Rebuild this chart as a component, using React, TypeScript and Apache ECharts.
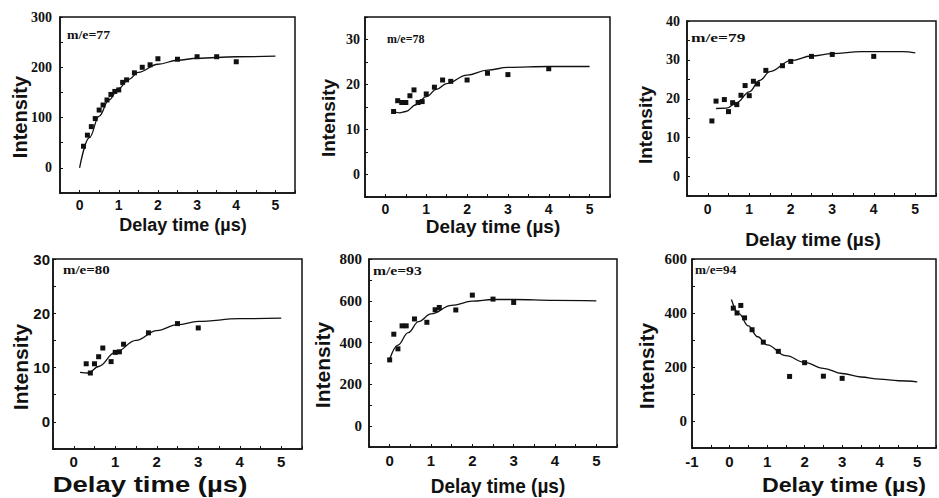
import React, { useEffect, useRef } from "react";
import * as echarts from "echarts";

// ---- data ----
const x77 = [0.1, 0.2, 0.3, 0.4, 0.5, 0.6, 0.7, 0.8, 0.9, 1.0, 1.1, 1.2, 1.4, 1.6, 1.8, 2.0, 2.5, 3.0, 3.5, 4.0];
const y77 = [43, 65, 82, 98, 115, 125, 135, 146, 152, 155, 170, 175, 189, 200, 205, 217, 216, 221, 221, 211];
const fit77X = [0, 0.25, 0.5, 0.75, 1, 1.25, 1.5, 2, 2.5, 3, 4, 5];
const fit77Y = [0, 60, 103, 135, 158, 176, 190, 206, 214, 218, 221, 222];

const x78 = [0.2, 0.3, 0.4, 0.5, 0.6, 0.7, 0.8, 0.9, 1.0, 1.2, 1.4, 1.6, 2.0, 2.5, 3.0, 4.0];
const y78 = [14.0, 16.4, 16.0, 16.0, 17.5, 18.8, 16.0, 16.2, 17.9, 19.4, 21.0, 20.7, 21.0, 22.5, 22.2, 23.5];
const fit78X = [0.2, 0.35, 0.5, 0.75, 1, 1.25, 1.5, 2, 2.5, 3, 4, 5];
const fit78Y = [14.0, 13.7, 14.0, 15.5, 17.3, 18.9, 20.2, 22.1, 23.2, 23.8, 24.0, 24.0];

const x79 = [0.1, 0.2, 0.4, 0.5, 0.6, 0.7, 0.8, 0.9, 1.0, 1.1, 1.2, 1.4, 1.8, 2.0, 2.5, 3.0, 4.0];
const y79 = [14.3, 19.4, 19.8, 16.7, 19.0, 18.5, 20.9, 23.4, 20.8, 24.5, 23.8, 27.3, 28.5, 29.6, 30.9, 31.4, 30.9];
const fit79X = [0.2, 0.45, 0.7, 1.0, 1.25, 1.5, 2.0, 2.5, 3.0, 3.7, 4.7, 5.0];
const fit79Y = [17.5, 17.6, 19.0, 21.8, 24.7, 27.0, 29.8, 31.0, 31.6, 32.1, 32.1, 31.8];

const x80 = [0.3, 0.4, 0.5, 0.6, 0.7, 0.9, 1.0, 1.1, 1.2, 1.8, 2.5, 3.0];
const y80 = [10.7, 9.0, 10.7, 12.0, 13.6, 11.1, 12.8, 12.9, 14.3, 16.4, 18.1, 17.3];
const fit80X = [0.15, 0.35, 0.6, 1.0, 1.5, 2.0, 2.5, 3.0, 4.0, 5.0];
const fit80Y = [9.1, 9.0, 10.2, 12.8, 15.0, 16.8, 17.9, 18.5, 19.0, 19.1];

const x93 = [0, 0.1, 0.2, 0.3, 0.4, 0.6, 0.9, 1.1, 1.2, 1.6, 2.0, 2.5, 3.0];
const y93 = [317, 440, 370, 480, 480, 513, 497, 557, 568, 556, 627, 608, 592];
const fit93X = [0, 0.2, 0.45, 0.7, 1, 1.5, 2, 2.5, 3, 4, 5];
const fit93Y = [320, 388, 448, 500, 537, 578, 598, 606, 606, 602, 600];

const x94 = [0.1, 0.2, 0.3, 0.4, 0.6, 0.9, 1.3, 1.6, 2.0, 2.5, 3.0];
const y94 = [418, 400, 428, 382, 338, 292, 258, 165, 216, 166, 158];
const fit94X = [0.05, 0.25, 0.5, 0.75, 1, 1.5, 2, 2.5, 3, 3.5, 4, 4.5, 5];
const fit94Y = [450, 398, 352, 312, 282, 242, 217, 195, 176, 163, 155, 149, 145];

const labels = ["m/e=77", "m/e=78", "m/e=79", "m/e=80", "m/e=93", "m/e=94"];
const yTitle = "Intensity";
const xTitle = "Delay time (µs)";

const SANS = '"Liberation Sans", Arial, sans-serif';
const SERIF = '"Liberation Serif", "Times New Roman", serif';

const panels = [
  {
    sx: x77, sy: y77, fx: fit77X, fy: fit77Y, label: labels[0],
    grid: { left: 60, top: 17, width: 235, height: 176 },
    xMin: -0.5, xMax: 5.5, yMin: -50, yMax: 300, yStep: 50, yLab: 100,
    yFont: { f: SERIF, s: 14 }, yMargin: 8, xFont: { f: SANS, s: 14 }, xMargin: 5,
    yT: { x: 20, y: 117, s: 20, sc: 1 }, xT: { x: 183, y: 225, s: 18, sc: 1 },
    me: { x: 67, y: 35, s: 12, sc: 1.15 },
  },
  {
    sx: x78, sy: y78, fx: fit78X, fy: fit78Y, label: labels[1],
    grid: { left: 365, top: 17, width: 245, height: 180 },
    xMin: -0.5, xMax: 5.5, yMin: -5, yMax: 35, yStep: 5, yLab: 10,
    yFont: { f: SERIF, s: 14 }, yMargin: 5, xFont: { f: SANS, s: 14 }, xMargin: 5,
    yT: { x: 328, y: 118, s: 19, sc: 1 }, xT: { x: 493, y: 226, s: 19, sc: 1 },
    me: { x: 387, y: 39, s: 12, sc: 1.0 },
  },
  {
    sx: x79, sy: y79, fx: fit79X, fy: fit79Y, label: labels[2],
    grid: { left: 687, top: 21, width: 254, height: 175 },
    xMin: -0.5, xMax: 5.5, yMin: -5, yMax: 40, yStep: 5, yLab: 10,
    yFont: { f: SERIF, s: 14 }, yMargin: 7, xFont: { f: SANS, s: 14 }, xMargin: 6,
    yT: { x: 645, y: 125, s: 19, sc: 1 }, xT: { x: 813, y: 240, s: 19, sc: 1.01 },
    me: { x: 691, y: 38, s: 12, sc: 1.45 },
  },
  {
    sx: x80, sy: y80, fx: fit80X, fy: fit80Y, label: labels[3],
    grid: { left: 53, top: 259, width: 249, height: 190 },
    xMin: -0.5, xMax: 5.5, yMin: -5, yMax: 30, yStep: 5, yLab: 10,
    yFont: { f: SANS, s: 15 }, yMargin: 3, xFont: { f: SANS, s: 15 }, xMargin: 5,
    yT: { x: 20, y: 367, s: 21, sc: 1 }, xT: { x: 150, y: 484, s: 22, sc: 1.25 },
    me: { x: 63, y: 270, s: 13, sc: 1.15 },
  },
  {
    sx: x93, sy: y93, fx: fit93X, fy: fit93Y, label: labels[4],
    grid: { left: 369, top: 259, width: 248, height: 188 },
    xMin: -0.5, xMax: 5.5, yMin: -100, yMax: 800, yStep: 100, yLab: 200,
    yFont: { f: SERIF, s: 15 }, yMargin: 7, xFont: { f: SANS, s: 15 }, xMargin: 6,
    yT: { x: 322, y: 365, s: 21, sc: 1 }, xT: { x: 498, y: 486, s: 20, sc: 0.95 },
    me: { x: 373, y: 270, s: 13, sc: 1.2 },
  },
  {
    sx: x94, sy: y94, fx: fit94X, fy: fit94Y, label: labels[5],
    grid: { left: 692, top: 259, width: 249, height: 189 },
    xMin: -1, xMax: 5.5, yMin: -100, yMax: 600, yStep: 100, yLab: 200,
    yFont: { f: SERIF, s: 15 }, yMargin: 5, xFont: { f: SANS, s: 15 }, xMargin: 6,
    yT: { x: 646, y: 366, s: 21, sc: 1 }, xT: { x: 844, y: 485, s: 20, sc: 1.16 },
    me: { x: 695, y: 270, s: 12, sc: 1.1 },
  },
];

function buildOption() {
  const grid: any[] = [];
  const xAxis: any[] = [];
  const yAxis: any[] = [];
  const series: any[] = [];
  const graphic: any[] = [];

  panels.forEach((p, i) => {
    grid.push({
      ...p.grid,
      show: true,
      borderColor: "#111",
      borderWidth: 1.5,
      backgroundColor: "transparent",
      containLabel: false,
    });
    xAxis.push({
      type: "value",
      gridIndex: i,
      min: p.xMin,
      max: p.xMax,
      interval: 0.5,
      splitLine: { show: false },
      axisLine: { show: true, onZero: false, lineStyle: { color: "#111", width: 1.5 } },
      axisTick: { show: true, inside: true, length: 3, lineStyle: { color: "#111", width: 1 } },
      axisLabel: {
        margin: p.xMargin,
        color: "#111",
        fontFamily: p.xFont.f,
        fontSize: p.xFont.s,
        fontWeight: "bold",
        showMinLabel: true,
        showMaxLabel: true,
        formatter: (v: number) => (Number.isInteger(v) ? String(v) : ""),
      },
    });
    yAxis.push({
      type: "value",
      gridIndex: i,
      min: p.yMin,
      max: p.yMax,
      interval: p.yStep,
      splitLine: { show: false },
      axisLine: { show: true, onZero: false, lineStyle: { color: "#111", width: 1.5 } },
      axisTick: { show: true, inside: true, length: 3, lineStyle: { color: "#111", width: 1 } },
      axisLabel: {
        margin: p.yMargin,
        color: "#111",
        fontFamily: p.yFont.f,
        fontSize: p.yFont.s,
        fontWeight: "bold",
        showMinLabel: true,
        showMaxLabel: true,
        formatter: (v: number) => (v >= 0 && Math.abs(v % p.yLab) < 1e-9 ? String(v) : ""),
      },
    });
    series.push({
      type: "line",
      xAxisIndex: i,
      yAxisIndex: i,
      data: p.fx.map((x, k) => [x, p.fy[k]]),
      smooth: 0.4,
      smoothMonotone: "x",
      showSymbol: false,
      symbol: "none",
      lineStyle: { color: "#111", width: 1.3 },
      z: 2,
    });
    series.push({
      type: "scatter",
      xAxisIndex: i,
      yAxisIndex: i,
      data: p.sx.map((x, k) => [x, p.sy[k]]),
      symbol: "rect",
      symbolSize: 5,
      itemStyle: { color: "#111", opacity: 1 },
      z: 3,
    });

    graphic.push({
      type: "text",
      x: p.yT.x,
      y: p.yT.y,
      rotation: Math.PI / 2,
      scaleX: p.yT.sc,
      style: {
        text: yTitle,
        fill: "#111",
        fontFamily: SANS,
        fontSize: p.yT.s,
        fontWeight: "bold",
        align: "center",
        verticalAlign: "middle",
        textAlign: "center",
        textVerticalAlign: "middle",
      },
    });
    graphic.push({
      type: "text",
      x: p.xT.x,
      y: p.xT.y,
      scaleX: p.xT.sc,
      style: {
        text: xTitle,
        fill: "#111",
        fontFamily: SANS,
        fontSize: p.xT.s,
        fontWeight: "bold",
        align: "center",
        verticalAlign: "middle",
        textAlign: "center",
        textVerticalAlign: "middle",
      },
    });
    graphic.push({
      type: "text",
      x: p.me.x,
      y: p.me.y,
      scaleX: p.me.sc,
      style: {
        text: p.label,
        fill: "#111",
        fontFamily: SERIF,
        fontSize: p.me.s,
        fontWeight: "bold",
        align: "left",
        verticalAlign: "middle",
        textAlign: "left",
        textVerticalAlign: "middle",
      },
    });
  });

  return {
    animation: false,
    backgroundColor: "#ffffff",
    grid,
    xAxis,
    yAxis,
    series,
    graphic,
  };
}

export default function App() {
  const ref = useRef<HTMLDivElement>(null);
  useEffect(() => {
    if (!ref.current) return;
    const chart = echarts.init(ref.current, undefined, { renderer: "svg" });
    chart.setOption(buildOption() as any);
    return () => chart.dispose();
  }, []);
  return (
    <div
      ref={ref}
      style={{ position: "fixed", left: 0, top: 0, width: 939, height: 498, background: "#fff" }}
    />
  );
}
